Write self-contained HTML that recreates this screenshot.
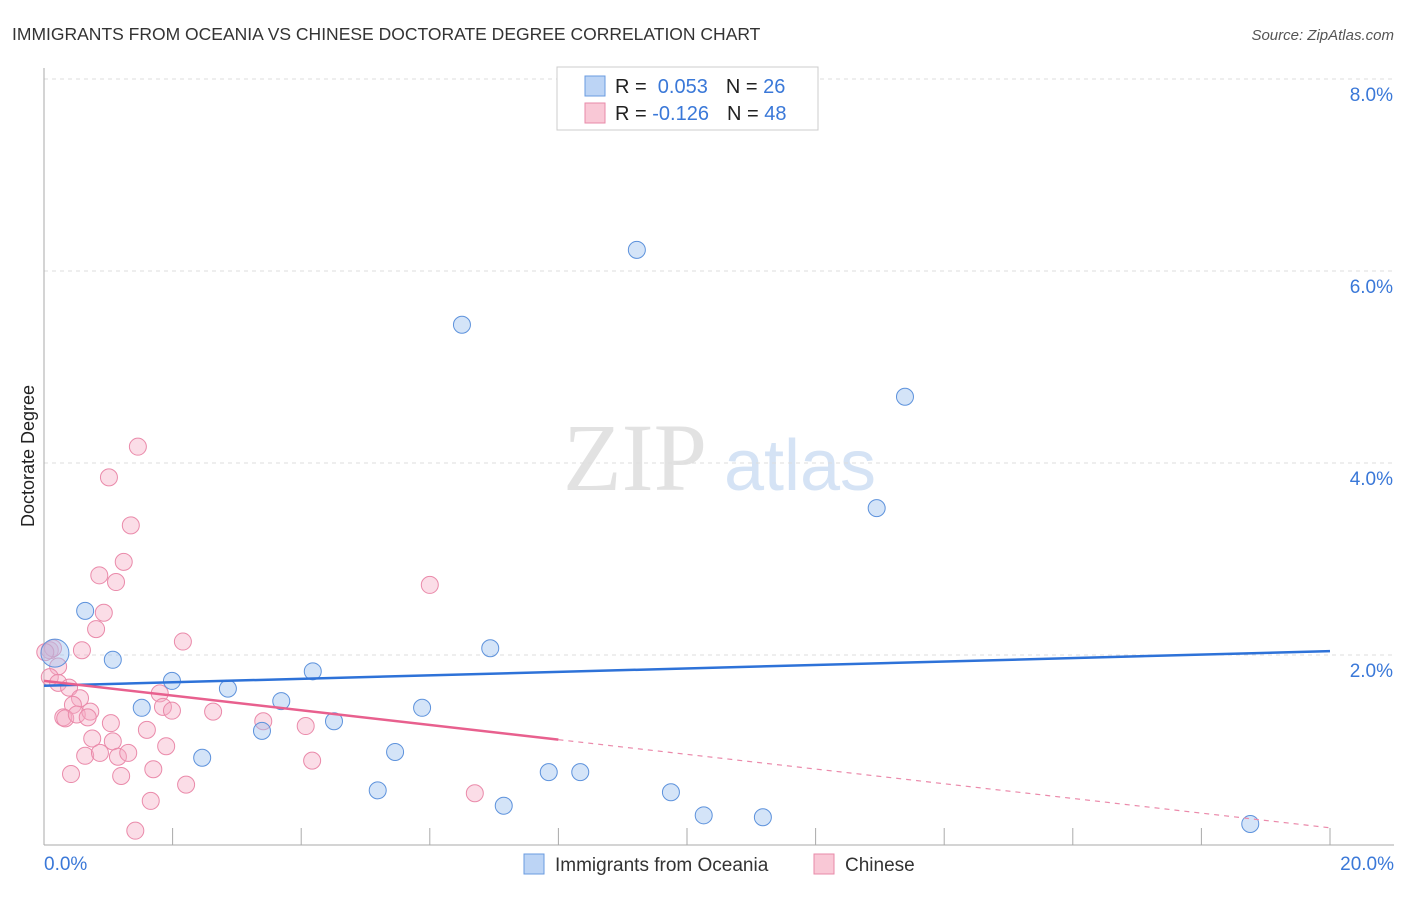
<!DOCTYPE html>
<html><head><meta charset="utf-8"><style>
body{margin:0;background:#fff;font-family:"Liberation Sans",sans-serif}
</style></head><body>
<svg width="1406" height="892" xmlns="http://www.w3.org/2000/svg" style="font-family:'Liberation Sans',sans-serif">
<text x="12" y="40" font-size="17.5" fill="#333">IMMIGRANTS FROM OCEANIA VS CHINESE DOCTORATE DEGREE CORRELATION CHART</text>
<text x="1394" y="40" font-size="15" fill="#555" font-style="italic" text-anchor="end">Source: ZipAtlas.com</text>
<text x="635" y="490" font-size="96" fill="#e2e2e2" text-anchor="middle" font-family="Liberation Serif">ZIP</text>
<text x="800" y="490" font-size="72" fill="#d5e3f5" text-anchor="middle">atlas</text>
<text transform="translate(34,456) rotate(-90)" font-size="18" fill="#222" text-anchor="middle">Doctorate Degree</text>
<g id="grid"></g><g id="axes"></g><g id="pts"></g><g id="lines"></g>
<g>
<rect x="557" y="67" width="261" height="63" fill="#fff" stroke="#ccc"/>
<rect x="585" y="76" width="20" height="20" fill="#bcd4f5" stroke="#6a9be0"/>
<rect x="585" y="103" width="20" height="20" fill="#f9c8d6" stroke="#e88aa8"/>
<text x="615" y="93" font-size="20" fill="#222">R = <tspan fill="#3a78d8">&#160;0.053</tspan><tspan dx="18">N = </tspan><tspan fill="#3a78d8">26</tspan></text>
<text x="615" y="120" font-size="20" fill="#222">R = <tspan fill="#3a78d8">-0.126</tspan><tspan dx="18">N = </tspan><tspan fill="#3a78d8">48</tspan></text>
</g>
<g>
<rect x="524" y="854" width="20" height="20" fill="#bcd4f5" stroke="#6a9be0"/>
<text x="555" y="871" font-size="19" fill="#333">Immigrants from Oceania</text>
<rect x="814" y="854" width="20" height="20" fill="#f9c8d6" stroke="#e88aa8"/>
<text x="845" y="871" font-size="19" fill="#333">Chinese</text>
</g>
</svg>
<script>
const xTicks=[0,2,4,6,8,10,12,14,16,18,20];
const yTicks=[2,4,6,8];
const yTickLabels=["2.0%","4.0%","6.0%","8.0%"];
const xEndLabels=["0.0%","20.0%"];
const oceaniaX=[0.17,0.64,1.07,1.52,1.99,2.46,2.86,3.39,3.69,4.18,4.51,5.19,5.46,5.88,6.50,6.94,7.15,7.85,8.34,9.22,9.75,10.26,11.18,12.95,13.39,18.76];
const oceaniaY=[2.02,2.46,1.95,1.45,1.73,0.93,1.65,1.21,1.52,1.83,1.31,0.59,0.99,1.45,5.44,2.07,0.43,0.78,0.78,6.22,0.57,0.33,0.31,3.53,4.69,0.24];
const chineseX=[1.46,1.01,1.35,1.24,0.86,1.12,0.93,0.81,2.16,0.59,6.00,0.09,0.14,0.22,0.09,0.22,0.39,0.56,0.45,0.30,0.33,0.51,0.72,0.68,1.80,1.85,1.99,2.63,3.41,4.07,1.04,1.60,0.75,1.07,1.90,0.64,0.87,1.15,1.31,0.42,1.20,1.70,2.21,4.17,1.66,1.42,6.70,0.02];
const chineseY=[4.17,3.85,3.35,2.97,2.83,2.76,2.44,2.27,2.14,2.05,2.73,2.05,2.07,1.88,1.77,1.71,1.66,1.55,1.48,1.35,1.34,1.38,1.41,1.35,1.60,1.46,1.42,1.41,1.31,1.26,1.29,1.22,1.13,1.10,1.05,0.95,0.98,0.94,0.98,0.76,0.74,0.81,0.65,0.90,0.48,0.17,0.56,2.03];
const oceaniaTrend=[1.68,2.04];
const chineseTrend=[1.73,0.20];
const chineseSolidEnd=8.0;
const NS="http://www.w3.org/2000/svg";
const X=v=>44+v*(1286/20), Y=v=>847-v*96;
function mk(p,t,a){const e=document.createElementNS(NS,t);for(const k in a)e.setAttribute(k,a[k]);p.appendChild(e);return e;}
const grid=document.getElementById('grid'),axes=document.getElementById('axes'),pts=document.getElementById('pts'),lines=document.getElementById('lines');
yTicks.forEach((t,i)=>{
 const g=mk(grid,'line',{x1:44,x2:1394,y1:Y(t),y2:Y(t),stroke:'#ddd','stroke-dasharray':'4,4'});
 
 
 const l=mk(axes,'text',{x:1393,y:Y(t)+22,'font-size':19,fill:'#3a78d8','text-anchor':'end'});l.textContent=yTickLabels[i];
 
 
});
const ax=mk(axes,'line',{x1:44,x2:44,y1:68,y2:845,stroke:'#aaa'});


const bx=mk(axes,'line',{x1:44,x2:1394,y1:845,y2:845,stroke:'#aaa'});


xTicks.forEach(t=>{const k=mk(axes,'line',{x1:X(t),x2:X(t),y1:828,y2:845,stroke:'#aaa'});
 
 });
const l0=mk(axes,'text',{x:44,y:870,'font-size':19,fill:'#3a78d8'});l0.textContent=xEndLabels[0];


const l1=mk(axes,'text',{x:1394,y:870,'font-size':19,fill:'#3a78d8','text-anchor':'end'});l1.textContent=xEndLabels[1];


chineseX.forEach((x,i)=>{const c=mk(pts,'circle',{cx:X(x),cy:Y(chineseY[i]),r:8.5,fill:'rgba(246,170,195,0.4)',stroke:'#ea8aaa','stroke-width':1});
 
 });
oceaniaX.forEach((x,i)=>{const c=mk(pts,'circle',{cx:X(x),cy:Y(oceaniaY[i]),r:i==0?14:8.5,fill:'rgba(160,195,240,0.45)',stroke:'#5d92dc','stroke-width':1});
 
 });
const bl=mk(lines,'line',{x1:X(0),y1:Y(oceaniaTrend[0]),x2:X(20),y2:Y(oceaniaTrend[1]),stroke:'#2e72d8','stroke-width':2.5});


const cy=v=>chineseTrend[0]+(chineseTrend[1]-chineseTrend[0])*v/20;
const pl=mk(lines,'line',{x1:X(0),y1:Y(cy(0)),x2:X(chineseSolidEnd),y2:Y(cy(chineseSolidEnd)),stroke:'#e8608e','stroke-width':2.5});


const pd=mk(lines,'line',{x1:X(chineseSolidEnd),y1:Y(cy(chineseSolidEnd)),x2:X(20),y2:Y(cy(20)),stroke:'#eb8aab','stroke-width':1.2,'stroke-dasharray':'5,5'});


</script>
</body></html>
